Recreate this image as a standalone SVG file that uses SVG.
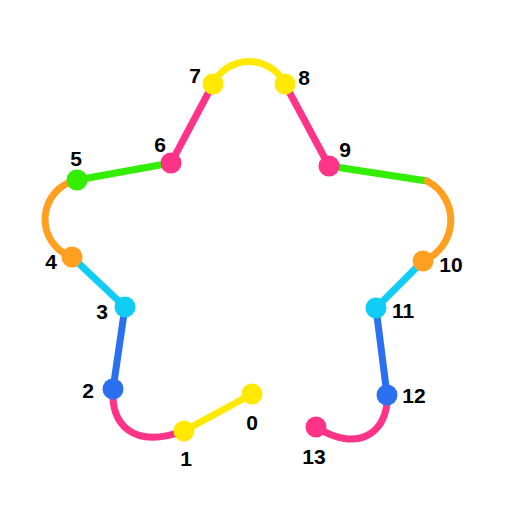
<svg xmlns="http://www.w3.org/2000/svg" width="512" height="512" viewBox="0 0 512 512">
<style>
.s{fill:none;stroke-width:7;stroke-linecap:round}
.y{stroke:#ffe900}.p{stroke:#ff3388}.g{stroke:#33ee00}.o{stroke:#ffa020}.c{stroke:#11ccf5}.b{stroke:#2a70f0}
.ny{fill:#ffe900}.np{fill:#ff3388}.ng{fill:#33ee00}.no{fill:#ffa020}.nc{fill:#11ccf5}.nb{fill:#2a70f0}
text{font-family:"Liberation Sans",Arial,sans-serif;font-weight:bold;font-size:21px;fill:#000;text-anchor:middle}
</style>
<rect width="512" height="512" fill="#fff"/>
<g id="connectors">
<line class="s y" x1="252" y1="394" x2="184" y2="431"/>
<path class="s p" d="M113,389 C111,422 130,450 184,431"/>
<line class="s b" x1="113" y1="389" x2="125" y2="307"/>
<line class="s c" x1="125" y1="307" x2="72" y2="257"/>
<path class="s o" d="M72,257 A40,40 0 0 1 77,180"/>
<line class="s g" x1="77" y1="180" x2="171" y2="163"/>
<line class="s p" x1="171" y1="163" x2="213" y2="84"/>
<path class="s y" d="M213,84 A40,40 0 0 1 285,84"/>
<line class="s p" x1="285" y1="84" x2="329" y2="166"/>
<line class="s g" x1="329" y1="166" x2="427" y2="181"/>
<path class="s o" d="M427,181 A44,44 0 0 1 423,261"/>
<line class="s c" x1="423" y1="261" x2="376" y2="308"/>
<line class="s b" x1="376" y1="308" x2="387" y2="395"/>
<path class="s p" d="M387,395 C389,430 360,455 316,427"/>
</g>
<g id="n0"><circle class="ny" cx="252" cy="394" r="10.5"/><text x="252" y="430">0</text></g>
<g id="n1"><circle class="ny" cx="184" cy="431" r="10.5"/><text x="186" y="466">1</text></g>
<g id="n2"><circle class="nb" cx="113" cy="389" r="10.5"/><text x="88" y="398">2</text></g>
<g id="n3"><circle class="nc" cx="125" cy="307" r="10.5"/><text x="102" y="319">3</text></g>
<g id="n4"><circle class="no" cx="72" cy="257" r="10.5"/><text x="51" y="269">4</text></g>
<g id="n5"><circle class="ng" cx="77" cy="180" r="10.5"/><text x="76" y="166">5</text></g>
<g id="n6"><circle class="np" cx="171" cy="163" r="10.5"/><text x="160" y="152">6</text></g>
<g id="n7"><circle class="ny" cx="213" cy="84" r="10.5"/><text x="195" y="83">7</text></g>
<g id="n8"><circle class="ny" cx="285" cy="84" r="10.5"/><text x="304" y="85">8</text></g>
<g id="n9"><circle class="np" cx="329" cy="166" r="10.5"/><text x="345" y="157">9</text></g>
<g id="n10"><circle class="no" cx="423" cy="261" r="10.5"/><text x="451" y="272">10</text></g>
<g id="n11"><circle class="nc" cx="376" cy="308" r="10.5"/><text x="403" y="318">11</text></g>
<g id="n12"><circle class="nb" cx="387" cy="395" r="10.5"/><text x="414" y="403">12</text></g>
<g id="n13"><circle class="np" cx="316" cy="427" r="10.5"/><text x="314" y="464">13</text></g>
</svg>
